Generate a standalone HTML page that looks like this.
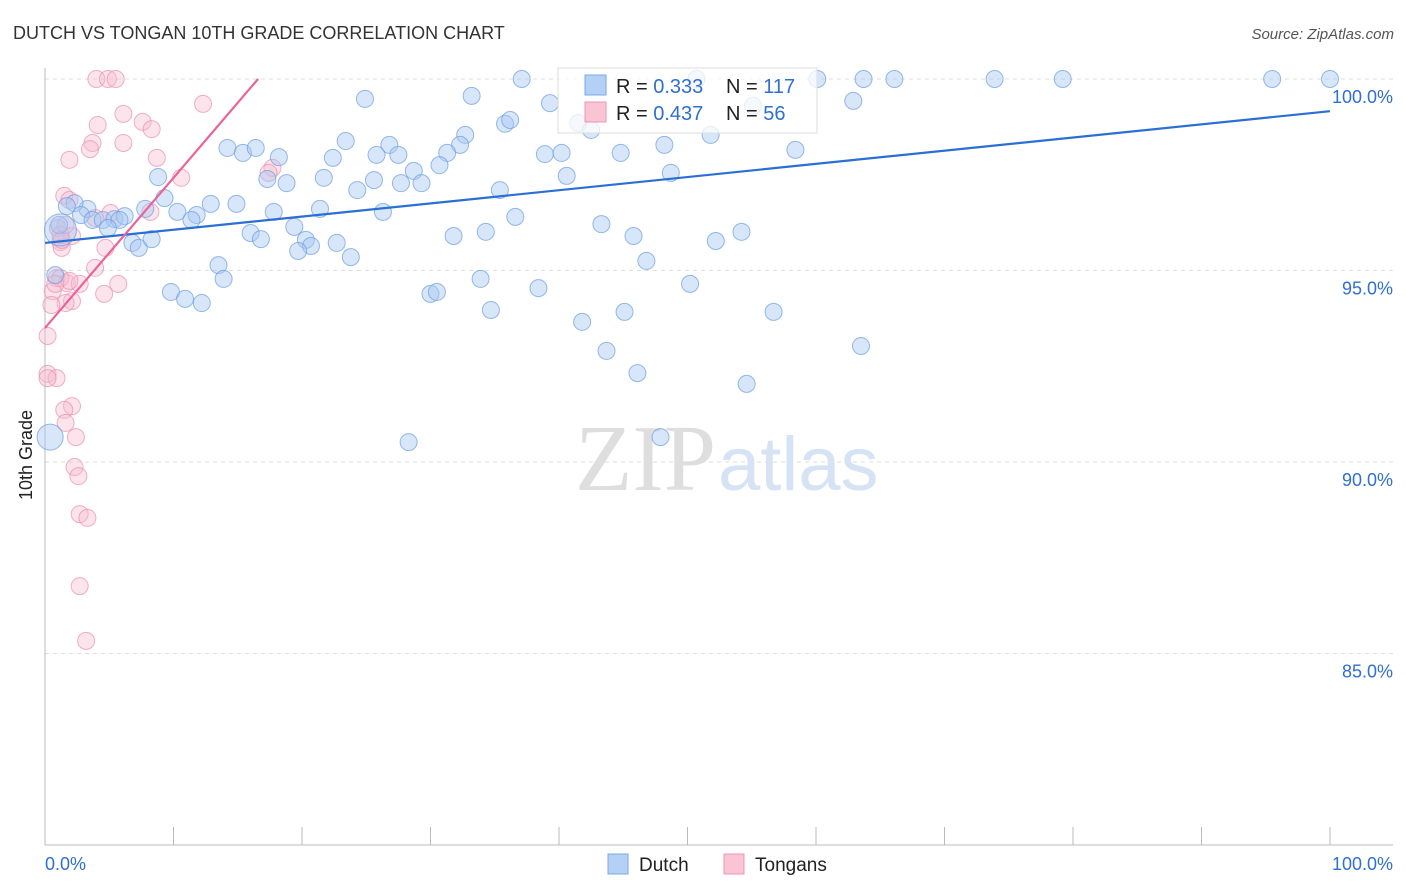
<!DOCTYPE html>
<html><head><meta charset="utf-8">
<style>
body{margin:0;background:#fff;font-family:"Liberation Sans",sans-serif;}
#wrap{position:relative;width:1406px;height:892px;overflow:hidden;}
</style></head>
<body>
<div id="wrap">
<svg id="svg" width="1406" height="892" xmlns="http://www.w3.org/2000/svg">
<text x="13" y="39" font-size="18" fill="#333">DUTCH VS TONGAN 10TH GRADE CORRELATION CHART</text>
<text x="1394" y="39" font-size="15" fill="#555" font-style="italic" text-anchor="end">Source: ZipAtlas.com</text>
<text x="32" y="455" font-size="18" fill="#222" transform="rotate(-90 32 455)" text-anchor="middle">10th Grade</text>
<g id="grid"></g>
<text x="716" y="490" font-size="94" fill="#dedede" text-anchor="end" font-family="Liberation Serif,serif">ZIP</text>
<text x="718" y="490" font-size="76" fill="#d6e3f5">atlas</text>
<g id="pts"></g>
<g id="lines"></g>
<g>
<rect x="558" y="68" width="259" height="65" fill="#fff" fill-opacity="0.75" stroke="#ddd"/>
<rect x="585" y="75" width="21" height="20" fill="#b5d0f5" stroke="#7aa8e8"/>
<rect x="585" y="102" width="21" height="20" fill="#f9c4d4" stroke="#ec95b2"/>
<text x="616" y="93" font-size="20" fill="#222">R = <tspan fill="#2f6fd0">0.333</tspan></text>
<text x="726" y="93" font-size="20" fill="#222">N = <tspan fill="#2f6fd0">117</tspan></text>
<text x="616" y="120" font-size="20" fill="#222">R = <tspan fill="#2f6fd0">0.437</tspan></text>
<text x="726" y="120" font-size="20" fill="#222">N = <tspan fill="#2f6fd0"> 56</tspan></text>
</g>
<g>
<rect x="608" y="854" width="20" height="20" fill="#b5d0f5" stroke="#7aa8e8"/>
<text x="639" y="871" font-size="19" fill="#222">Dutch</text>
<rect x="724" y="854" width="20" height="20" fill="#f9c4d4" stroke="#ec95b2"/>
<text x="755" y="871" font-size="19" fill="#222">Tongans</text>
</g>
</svg>
</div>
<script>
const yTicks=[100,95,90,85];
const yTickLabels=["100.0%","95.0%","90.0%","85.0%"];
const xTickLabels=["0.0%","100.0%"];
const dutchTrend=[95.72,0.0344];
const tonganTrend=[93.5,0.392];
const dutchX=[37.1,50.7,60.1,63.7,66.1,73.9,79.2,95.5,100,24.9,33.2,39.3,55.1,62.9,41.5,35.8,36.2,42.5,51.8,23.4,26.8,32.7,32.3,14.2,15.4,16.4,18.2,22.4,25.8,27.5,31.3,38.9,40.2,44.8,48.2,58.4,8.8,17.3,18.8,21.7,24.3,25.6,27.7,28.7,29.3,30.7,35.4,40.6,48.7,9.3,12.9,14.9,17.8,21.4,26.3,36.6,7.8,10.3,11.8,11.4,3.3,2.3,1.7,2.8,3.7,4.5,5.4,6.2,5.8,1.1,4.9,43.3,16,16.8,19.4,20.3,20.7,19.7,22.7,23.8,31.8,34.3,45.8,52.2,54.2,6.8,7.3,8.3,13.5,13.9,46.8,9.8,10.9,12.2,30,30.5,33.9,38.4,34.7,41.8,45.1,50.2,56.7,43.7,46.1,54.6,63.5,28.3,47.9,0.8,0.4,1.2];
const dutchY=[100,100,100,100,100,100,100,100,100,99.48,99.56,99.37,99.3,99.43,98.85,98.83,98.93,98.67,98.54,98.38,98.28,98.54,98.28,98.2,98.07,98.2,97.96,97.94,98.02,98.02,98.07,98.04,98.07,98.07,98.28,98.15,97.44,97.39,97.28,97.42,97.1,97.36,97.28,97.6,97.28,97.75,97.1,97.47,97.55,96.89,96.74,96.74,96.53,96.61,96.53,96.4,96.61,96.53,96.45,96.32,96.61,96.76,96.68,96.45,96.32,96.32,96.34,96.42,96.32,96.19,96.11,96.21,95.98,95.82,96.14,95.8,95.64,95.51,95.72,95.35,95.9,96.01,95.9,95.77,96.01,95.72,95.59,95.82,95.14,94.78,95.25,94.44,94.26,94.15,94.39,94.44,94.78,94.54,93.97,93.66,93.92,94.65,93.92,92.9,92.32,92.04,93.03,90.52,90.65,94.88,90.65,96.06];
const tonganX=[4,4.9,5.5,12.3,6.1,4.1,7.6,8.3,3.7,6.1,3.5,8.7,1.9,10.6,17.7,17.4,1.5,1.9,5.1,8.2,3.9,1,2.1,1.2,1.3,4.7,3.9,0.9,1.7,2.7,5.7,0.6,4.6,2.1,1.6,0.5,0.2,0.2,0.9,0.2,2.1,1.5,1.6,2.4,2.3,2.6,2.7,3.3,2.7,3.2,1.2,1.9,0.8,1.2,1.3,1.6];
const tonganY=[100,100,100,99.35,99.09,98.8,98.88,98.69,98.33,98.33,98.17,97.94,97.89,97.42,97.68,97.55,96.95,96.84,96.5,96.53,96.37,96.11,95.9,95.74,95.59,95.59,95.07,94.8,94.67,94.65,94.65,94.46,94.39,94.2,94.15,94.1,93.29,92.3,92.19,92.19,91.46,91.36,91.02,90.65,89.87,89.63,88.64,88.54,86.76,85.33,94.8,94.73,94.65,95.93,95.8,96.19];
const dutchBig=[110,111,112];
const NS="http://www.w3.org/2000/svg";
const X0=45,X1=1330,Y100=79,PPU=38.3;
function sx(v){return X0+(X1-X0)*v/100;}
function sy(v){return Y100+(100-v)*PPU;}
function el(t,a,p){const e=document.createElementNS(NS,t);for(const k in a)e.setAttribute(k,a[k]);p.appendChild(e);return e;}
const grid=document.getElementById('grid');
yTicks.forEach((t,i)=>{
 const l=el('line',{x1:45,x2:1393,y1:sy(t),y2:sy(t),stroke:'#ddd','stroke-dasharray':'4,4'},grid);
 
 
 const tx=el('text',{x:1393,y:sy(t)+24,'font-size':18,fill:'#2f6fd0','text-anchor':'end'},grid);
 tx.textContent=yTickLabels[i];
 
 
});
const ax=el('line',{x1:45,x2:45,y1:68,y2:845,stroke:'#bbb'},grid);


const bx=el('line',{x1:45,x2:1393,y1:845,y2:845,stroke:'#bbb'},grid);


for(let i=0;i<=10;i++){
 const t=el('line',{x1:sx(i*10),x2:sx(i*10),y1:827,y2:845,stroke:'#bbb'},grid);
 
 
}
[[0,'start',45],[100,'end',1393]].forEach((d,i)=>{
 const t=el('text',{x:d[2],y:870,'font-size':18,fill:'#2f6fd0','text-anchor':d[1]},grid);
 t.textContent=xTickLabels[i];
 
 
});
const pts=document.getElementById('pts');
tonganX.forEach((x,i)=>{
 const c=el('circle',{cx:sx(x),cy:sy(tonganY[i]),r:8.5,fill:'#f7bcd0','fill-opacity':0.4,stroke:'#ea8eae','stroke-opacity':0.7},pts);
 
 
});
dutchX.forEach((x,i)=>{
 const big=dutchBig.indexOf(i)>=0;
 const c=el('circle',{cx:sx(x),cy:sy(dutchY[i]),r:big?(i==111?16:13):8.5,fill:'#a9c8f2','fill-opacity':0.45,stroke:'#6a9de0','stroke-opacity':0.7},pts);
 
 
});
const lines=document.getElementById('lines');
const dl=el('line',{x1:sx(0),y1:sy(dutchTrend[0]),x2:sx(100),y2:sy(dutchTrend[0]+100*dutchTrend[1]),stroke:'#2a6fd4','stroke-width':2.2},lines);


const xe=Math.min(100,(100-tonganTrend[0])/tonganTrend[1]);
const tl=el('line',{x1:sx(0),y1:sy(tonganTrend[0]),x2:sx(xe),y2:sy(tonganTrend[0]+xe*tonganTrend[1]),stroke:'#e8649a','stroke-width':2.2},lines);


</script>
</body></html>
